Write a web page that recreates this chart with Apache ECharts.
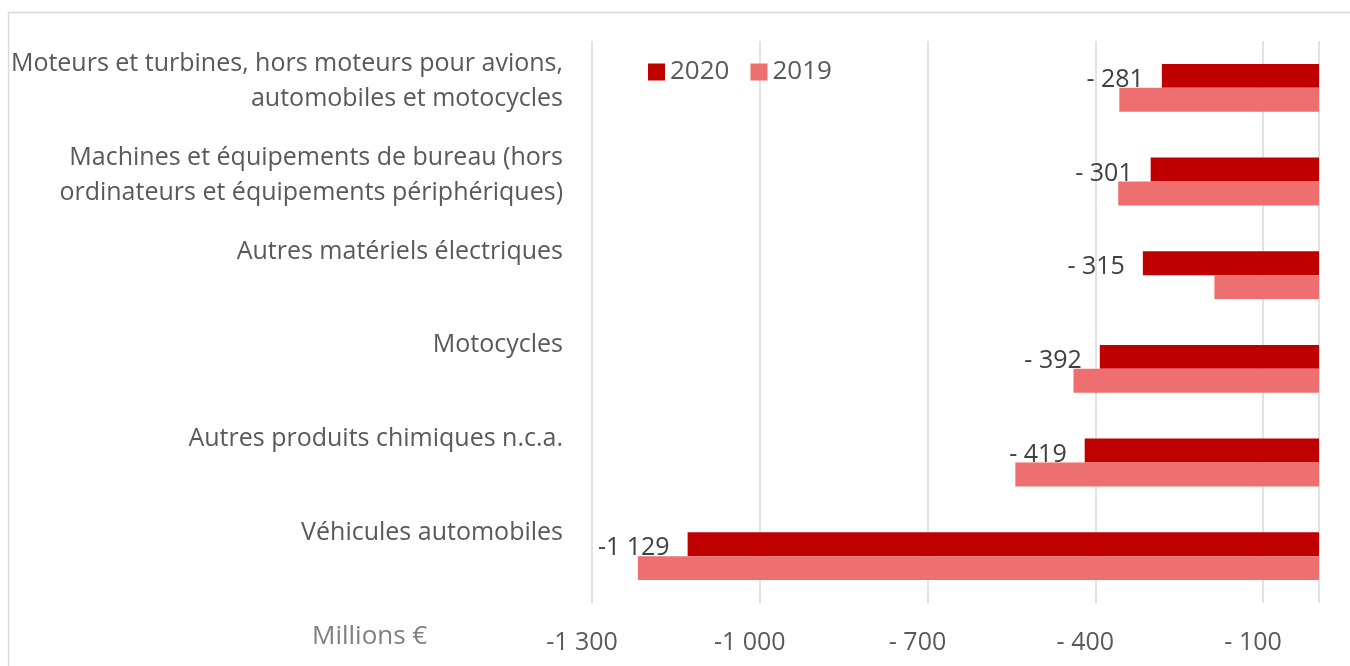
<!DOCTYPE html>
<html>
<head>
<meta charset="utf-8">
<script src="https://cdn.jsdelivr.net/npm/echarts@6/dist/echarts.min.js"></script>
<style>
  html, body { margin: 0; padding: 0; background: #fff; }
  #chart { width: 1350px; height: 666px; }
</style>
</head>
<body>
<div id="chart"></div>
<script>
// categories, top to bottom
var categories = [
  'Moteurs et turbines, hors moteurs pour avions,\nautomobiles et motocycles',
  'Machines et équipements de bureau (hors\nordinateurs et équipements périphériques)',
  'Autres matériels électriques',
  'Motocycles',
  'Autres produits chimiques n.c.a.',
  'Véhicules automobiles'
];
var values2020 = [-281, -301, -315, -392, -419, -1129];
var values2019 = [-357, -359, -187, -439, -543, -1218];
var seriesNames = ['2020', '2019'];

// "- 400" for small numbers, "-1 300" for thousands
function fmtNum(v) {
  var a = Math.abs(Math.round(v));
  if (a === 0) return '';
  if (a >= 1000) {
    return '-' + Math.floor(a / 1000) + ' ' + String(a % 1000).padStart(3, '0');
  }
  return '- ' + a;
}

// labels sit in the upper part of each band, like the Excel original
function fmtCat(v) {
  var lines = v.split('\n');
  if (lines.length < 2) lines.push(' ');
  return lines.map(function (l) { return '{a|' + l + '}'; }).join('\n') + '\n{gap| }';
}

var chart = echarts.init(document.getElementById('chart'));
var font = '"Open Sans", "Segoe UI", sans-serif';

chart.setOption({
  animation: false,
  textStyle: { fontFamily: font },
  grid: { left: 592, right: 31, top: 41, bottom: 63 },
  legend: {
    data: seriesNames,
    left: 643,
    top: 54,
    icon: 'rect',
    itemWidth: 17,
    itemHeight: 17,
    itemGap: 21,
    textStyle: { fontSize: 26, color: '#595959', fontFamily: font }
  },
  xAxis: {
    type: 'value',
    min: -1300,
    max: 0,
    interval: 300,
    axisLine: { show: false },
    axisTick: { show: false },
    axisLabel: {
      fontSize: 25,
      color: '#595959',
      margin: 27,
      padding: [0, 20, 0, 0],
      formatter: fmtNum
    },
    splitLine: { lineStyle: { color: '#d9d9d9', width: 1.5 } }
  },
  yAxis: {
    type: 'category',
    data: categories,
    inverse: true,
    axisLine: { show: false },
    axisTick: { show: false },
    axisLabel: {
      interval: 0,
      showMinLabel: true,
      showMaxLabel: true,
      align: 'right',
      verticalAlign: 'middle',
      margin: 29,
      formatter: fmtCat,
      rich: {
        a: { fontSize: 25, lineHeight: 35, color: '#595959', fontFamily: font, align: 'right' },
        gap: { fontSize: 10, lineHeight: 12 }
      }
    }
  },
  series: [
    {
      name: seriesNames[0],
      type: 'bar',
      data: values2020,
      barGap: '0%',
      barCategoryGap: '49%',
      itemStyle: { color: '#C00000' },
      label: {
        show: true,
        position: 'left',
        distance: 18,
        fontSize: 25,
        color: '#404040',
        offset: [0, 4],
        formatter: function (p) { return fmtNum(p.value); }
      }
    },
    {
      name: seriesNames[1],
      type: 'bar',
      data: values2019,
      barGap: '0%',
      barCategoryGap: '49%',
      itemStyle: { color: '#EE6F6F' }
    }
  ],
  graphic: [
    {
      type: 'rect',
      shape: { x: 8.5, y: 12.5, width: 1400, height: 700 },
      style: { fill: 'none', stroke: '#d9d9d9', lineWidth: 1.5 },
      silent: true
    },
    {
      type: 'text',
      left: 312,
      top: 624,
      style: { text: 'Millions €', fontSize: 26, fill: '#7f7f7f', fontFamily: font }
    }
  ]
});
</script>
</body>
</html>
